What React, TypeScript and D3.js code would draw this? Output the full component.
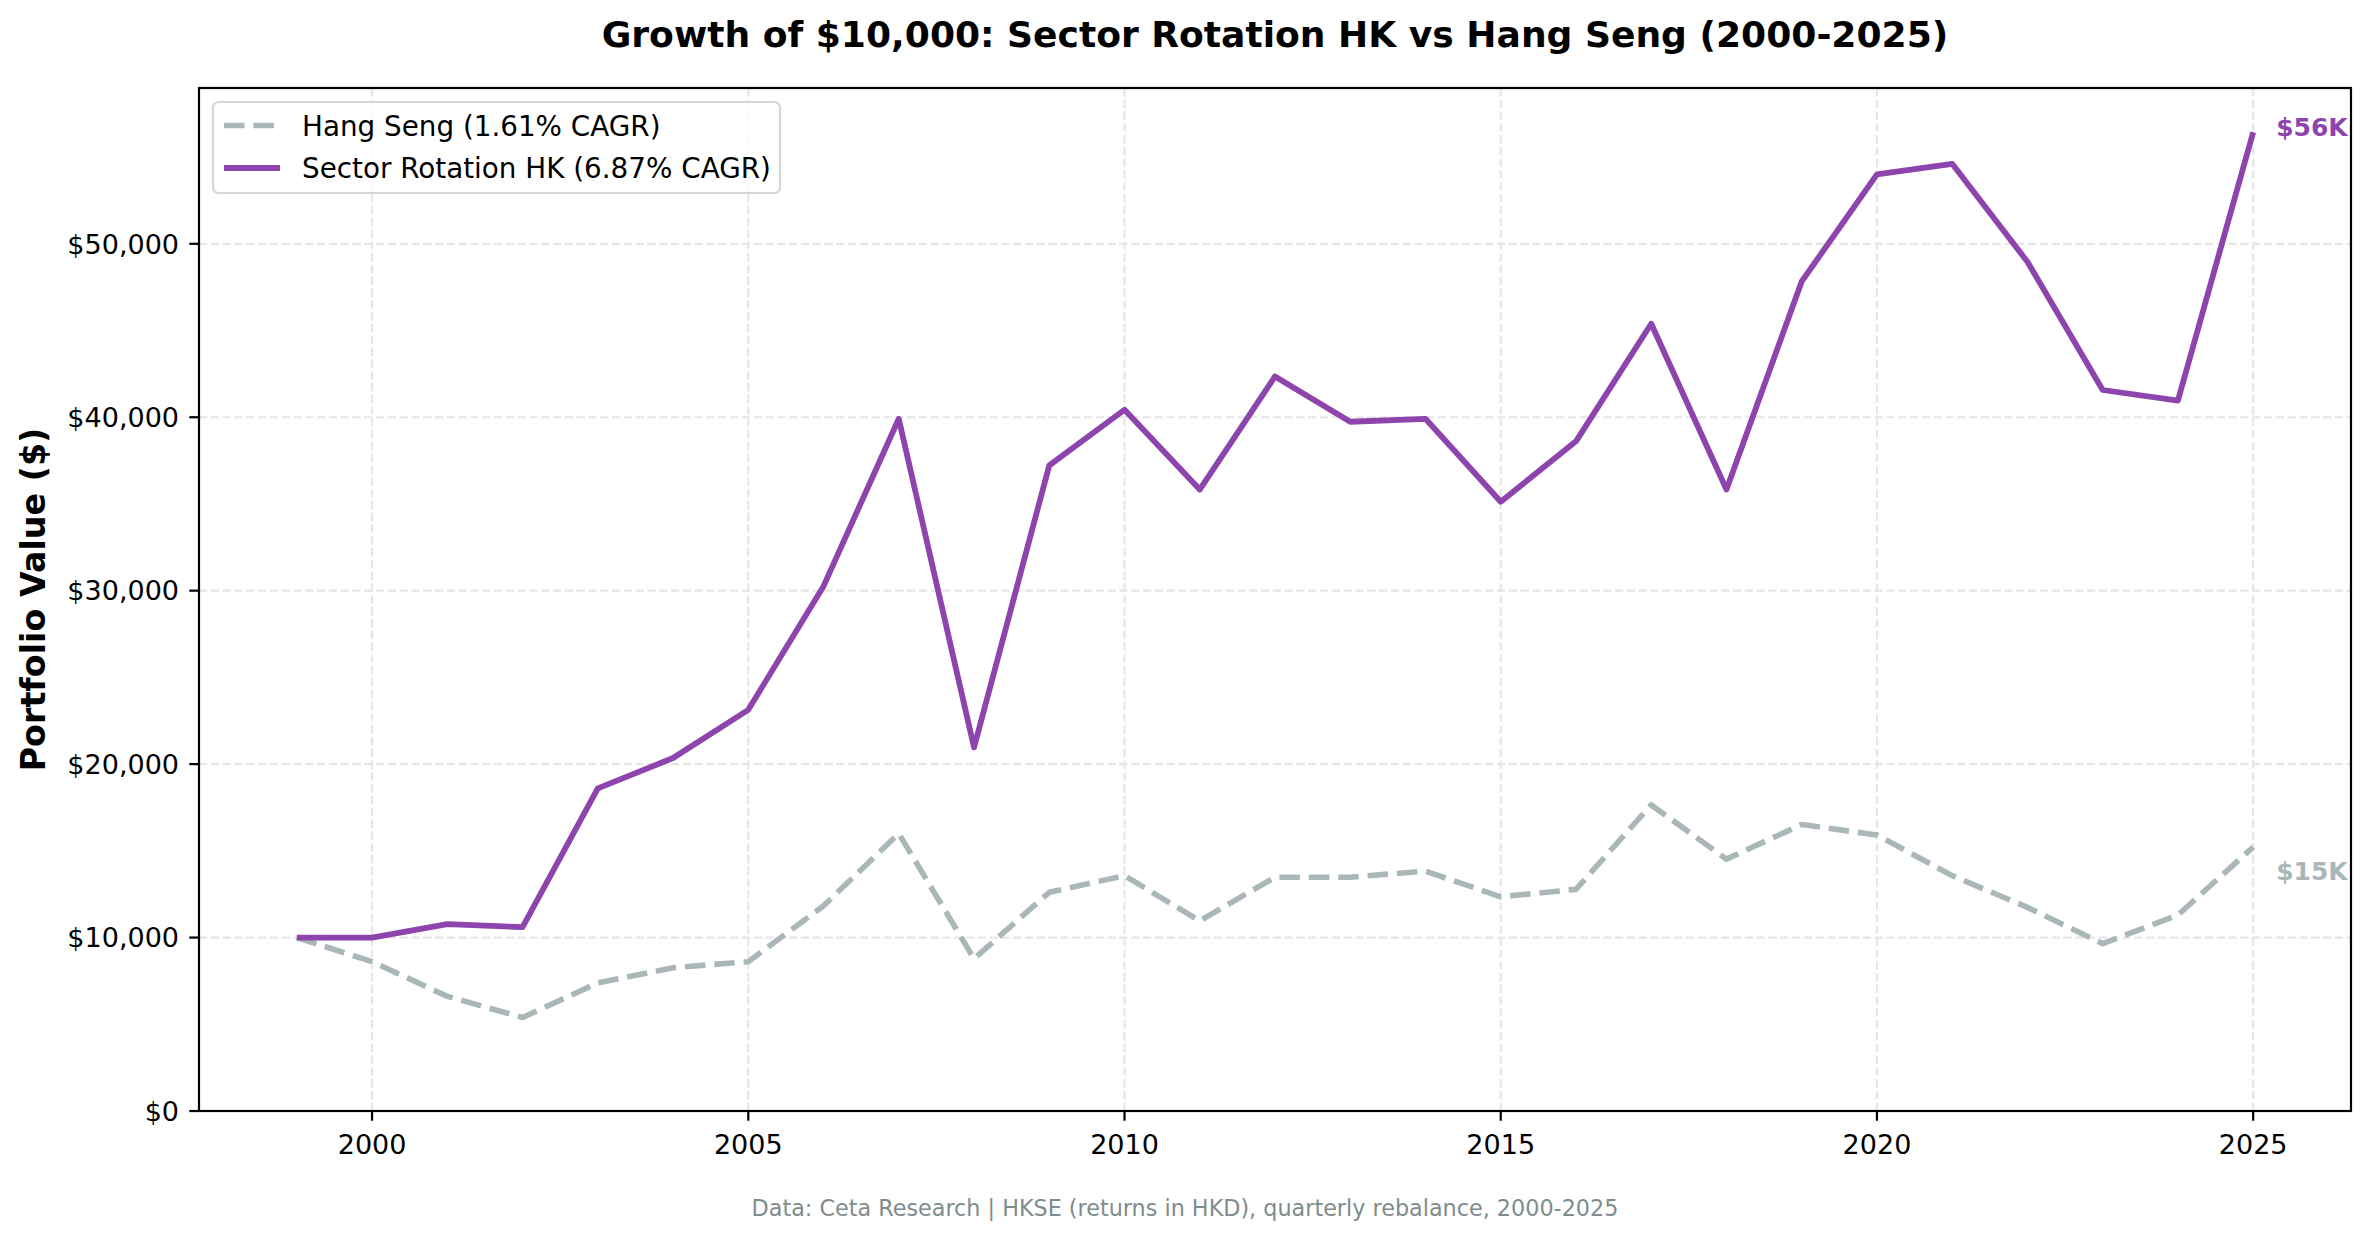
import React from "react";
import * as d3 from "d3";

const years = [1999, 2000, 2001, 2002, 2003, 2004, 2005, 2006, 2007, 2008, 2009, 2010, 2011, 2012, 2013, 2014, 2015, 2016, 2017, 2018, 2019, 2020, 2021, 2022, 2023, 2024, 2025];
const sectorRotation = [10000, 10000, 10780, 10600, 18600, 20350, 23130, 30260, 39910, 20960, 37220, 40430, 35830, 42350, 39740, 39910, 35130, 38610, 45390, 35830, 47830, 54000, 54610, 48960, 41570, 40960, 56430];
const hangSeng = [10000, 8610, 6610, 5390, 7390, 8260, 8610, 11830, 16000, 8780, 12610, 13570, 10960, 13480, 13480, 13830, 12350, 12780, 17650, 14520, 16520, 15910, 13570, 11740, 9650, 11300, 15220];
const xTicks = [2000, 2005, 2010, 2015, 2020, 2025];
const yTicks = [0, 10000, 20000, 30000, 40000, 50000];
const seriesNames = ["Hang Seng (1.61% CAGR)", "Sector Rotation HK (6.87% CAGR)"];
const endLabels = ["$15K", "$56K"];

const W = 2370;
const H = 1239;
const L = 199;
const R = 2351;
const T = 88;
const B = 1111;

const PURPLE = "#8E44AD";
const GRAY = "#AAB7B8";
const FONT = "DejaVu Sans, sans-serif";

export default function App() {
  const xmin = d3.min(years)!;
  const xmax = d3.max(years)!;
  const xm = (xmax - xmin) * 0.05;
  const x = d3.scaleLinear().domain([xmin - xm, xmax + xm]).range([L, R]);
  const all = [...sectorRotation, ...hangSeng];
  const dmin = d3.min(all)!;
  const dmax = d3.max(all)!;
  const y = d3.scaleLinear().domain([0, dmax + 0.05 * (dmax - dmin)]).range([B, T]);

  const line = d3
    .line<number>()
    .x((_, i) => x(years[i]))
    .y((v) => y(v));

  const fmt = (v: number) => "$" + d3.format(",")(v);
  const last = years.length - 1;

  return (
    <svg
      width={W}
      height={H}
      style={{ position: "absolute", left: 0, top: 0, background: "#fff" }}
      fontFamily={FONT}
    >
      <rect x={0} y={0} width={W} height={H} fill="#fff" />
      {/* grid */}
      <g stroke="#e6e6e6" strokeWidth={2.2} strokeDasharray="8.2,3.6">
        {xTicks.map((t) => (
          <line key={"gx" + t} x1={x(t)} x2={x(t)} y1={T} y2={B} />
        ))}
        {yTicks.map((t) => (
          <line key={"gy" + t} x1={L} x2={R} y1={y(t)} y2={y(t)} />
        ))}
      </g>

      {/* series */}
      <path
        d={line(hangSeng)!}
        fill="none"
        stroke={GRAY}
        strokeWidth={5.6}
        strokeDasharray="20.5,8.9"
        strokeLinejoin="round"
      />
      <path
        d={line(sectorRotation)!}
        fill="none"
        stroke={PURPLE}
        strokeWidth={5.8}
        strokeLinejoin="round"
        strokeLinecap="butt"
      />

      {/* end labels */}
      <text
        x={x(years[last]) + 23}
        y={y(sectorRotation[last]) - 5}
        dy="0.36em"
        fontSize={25}
        fontWeight="bold"
        fill={PURPLE}
      >
        {endLabels[1]}
      </text>
      <text
        x={x(years[last]) + 23}
        y={y(hangSeng[last]) + 24}
        dy="0.36em"
        fontSize={25}
        fontWeight="bold"
        fill={GRAY}
      >
        {endLabels[0]}
      </text>

      {/* spines */}
      <rect x={L} y={T} width={R - L} height={B - T} fill="none" stroke="#000" strokeWidth={2.2} />

      {/* x ticks */}
      {xTicks.map((t) => (
        <g key={"xt" + t}>
          <line x1={x(t)} x2={x(t)} y1={B} y2={B + 9.7} stroke="#000" strokeWidth={2.2} />
          <text x={x(t)} y={1144} dy="0.36em" textAnchor="middle" fontSize={27} fill="#000">
            {t}
          </text>
        </g>
      ))}
      {/* y ticks */}
      {yTicks.map((t) => (
        <g key={"yt" + t}>
          <line x1={L - 9.7} x2={L} y1={y(t)} y2={y(t)} stroke="#000" strokeWidth={2.2} />
          <text x={L - 20} y={y(t)} dy="0.36em" textAnchor="end" fontSize={27} fill="#000">
            {fmt(t)}
          </text>
        </g>
      ))}

      {/* legend */}
      <rect
        x={213}
        y={102}
        width={567}
        height={91}
        rx={5.5}
        fill="#fff"
        fillOpacity={0.8}
        stroke="#d6d6d6"
        strokeWidth={2.2}
      />
      <line x1={224} x2={280} y1={125.5} y2={125.5} stroke={GRAY} strokeWidth={5.6} strokeDasharray="20.5,8.9" />
      <line x1={224} x2={280} y1={168} y2={168} stroke={PURPLE} strokeWidth={5.8} />
      <text x={302} y={125.5} dy="0.36em" fontSize={27.8} fill="#000">
        {seriesNames[0]}
      </text>
      <text x={302} y={168} dy="0.36em" fontSize={27.8} fill="#000">
        {seriesNames[1]}
      </text>

      {/* title */}
      <text x={(L + R) / 2} y={34} dy="0.36em" textAnchor="middle" fontSize={36.1} fontWeight="bold" fill="#000">
        Growth of $10,000: Sector Rotation HK vs Hang Seng (2000-2025)
      </text>

      {/* y label */}
      <text
        transform={`translate(33,${(T + B) / 2}) rotate(-90)`}
        dy="0.36em"
        textAnchor="middle"
        fontSize={33.3}
        fontWeight="bold"
        fill="#000"
      >
        Portfolio Value ($)
      </text>

      {/* footnote */}
      <text x={W / 2} y={1208} dy="0.36em" textAnchor="middle" fontSize={22.3} fill="#7F8C8D">
        Data: Ceta Research | HKSE (returns in HKD), quarterly rebalance, 2000-2025
      </text>
    </svg>
  );
}
